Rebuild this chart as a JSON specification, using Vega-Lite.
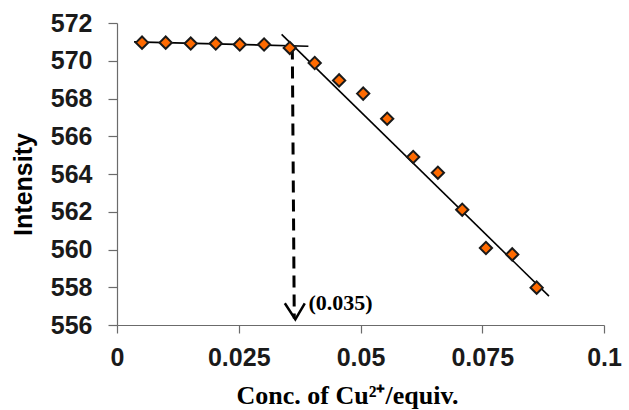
{
  "$schema": "https://vega.github.io/schema/vega-lite/v6.json",
  "width": 487,
  "height": 302,
  "autosize": {"type": "none"},
  "padding": {"left": 117, "top": 23, "right": 25, "bottom": 85},
  "background": "white",
  "config": {
    "view": {"stroke": null},
    "axis": {
      "grid": false,
      "domainColor": "#6b6b6b",
      "tickColor": "#6b6b6b",
      "domainWidth": 1.2,
      "tickWidth": 1.2,
      "labelFont": "Liberation Sans",
      "labelFontWeight": "bold",
      "labelFontSize": 25,
      "labelColor": "#1a1a1a",
      "titleColor": "#000000"
    }
  },
  "datasets": {
    "titration": [
      {"conc": 0.00514, "intensity": 570.96},
      {"conc": 0.0100, "intensity": 570.96},
      {"conc": 0.01514, "intensity": 570.91},
      {"conc": 0.02028, "intensity": 570.91},
      {"conc": 0.02521, "intensity": 570.86},
      {"conc": 0.0302, "intensity": 570.86},
      {"conc": 0.03548, "intensity": 570.68},
      {"conc": 0.0406, "intensity": 569.88},
      {"conc": 0.04561, "intensity": 568.96},
      {"conc": 0.05055, "intensity": 568.26},
      {"conc": 0.05548, "intensity": 566.93},
      {"conc": 0.06082, "intensity": 564.9},
      {"conc": 0.06589, "intensity": 564.07},
      {"conc": 0.07089, "intensity": 562.11},
      {"conc": 0.07576, "intensity": 560.08},
      {"conc": 0.08116, "intensity": 559.74},
      {"conc": 0.08617, "intensity": 557.98}
    ],
    "trendlines": [
      {"segment": "plateau", "conc": 0.0035, "intensity": 571.0},
      {"segment": "plateau", "conc": 0.0393, "intensity": 570.77},
      {"segment": "quench", "conc": 0.0338, "intensity": 571.4},
      {"segment": "quench", "conc": 0.0887, "intensity": 557.53}
    ],
    "dropline": [
      {"conc": 0.0360, "intensity": 570.7},
      {"conc": 0.0364, "intensity": 556.35}
    ],
    "arrowhead": [
      {"step": 1, "conc": 0.03446, "intensity": 557.15},
      {"step": 2, "conc": 0.03662, "intensity": 556.3},
      {"step": 3, "conc": 0.03856, "intensity": 557.15}
    ],
    "annotation": [
      {"conc": 0.0393, "intensity": 557.15, "label": "(0.035)"}
    ]
  },
  "encoding": {
    "x": {
      "field": "conc",
      "type": "quantitative",
      "scale": {"domain": [0, 0.1], "nice": false, "zero": false},
      "axis": {
        "values": [0, 0.025, 0.05, 0.075, 0.1],
        "format": ".3~f",
        "tickSize": 8,
        "labelPadding": 12,
        "labelFlush": false,
        "title": "Conc. of Cu²⁺/equiv.",
        "titleFont": "Liberation Serif",
        "titleFontWeight": "bold",
        "titleFontSize": 26,
        "titleX": 230,
        "titleY": 78,
        "titleAnchor": "middle",
        "titleAlign": "center",
        "titleBaseline": "alphabetic"
      }
    },
    "y": {
      "field": "intensity",
      "type": "quantitative",
      "scale": {"domain": [556, 572], "nice": false, "zero": false},
      "axis": {
        "values": [556, 558, 560, 562, 564, 566, 568, 570, 572],
        "tickSize": 9,
        "labelPadding": 16,
        "labelFlush": false,
        "title": "Intensity",
        "titleFont": "Liberation Sans",
        "titleFontWeight": "bold",
        "titleFontSize": 25,
        "titleAngle": -90,
        "titleX": -94,
        "titleY": 161,
        "titleAlign": "center",
        "titleBaseline": "middle"
      }
    }
  },
  "layer": [
    {
      "data": {"name": "trendlines"},
      "mark": {"type": "line", "color": "#000000", "strokeWidth": 1.6},
      "encoding": {"detail": {"field": "segment"}}
    },
    {
      "data": {"name": "dropline"},
      "mark": {"type": "line", "color": "#000000", "strokeWidth": 3, "strokeDash": [12, 7]},
      "encoding": {}
    },
    {
      "data": {"name": "arrowhead"},
      "mark": {"type": "line", "color": "#000000", "strokeWidth": 2.5},
      "encoding": {"order": {"field": "step"}}
    },
    {
      "data": {"name": "titration"},
      "mark": {
        "type": "point",
        "shape": "diamond",
        "filled": true,
        "size": 150,
        "fill": "#ff6a00",
        "stroke": "#1a1a1a",
        "strokeWidth": 2,
        "opacity": 1
      },
      "encoding": {}
    },
    {
      "data": {"name": "annotation"},
      "mark": {
        "type": "text",
        "align": "left",
        "baseline": "middle",
        "font": "Liberation Serif",
        "fontWeight": "bold",
        "fontSize": 22,
        "color": "#000000"
      },
      "encoding": {"text": {"field": "label"}}
    }
  ]
}
